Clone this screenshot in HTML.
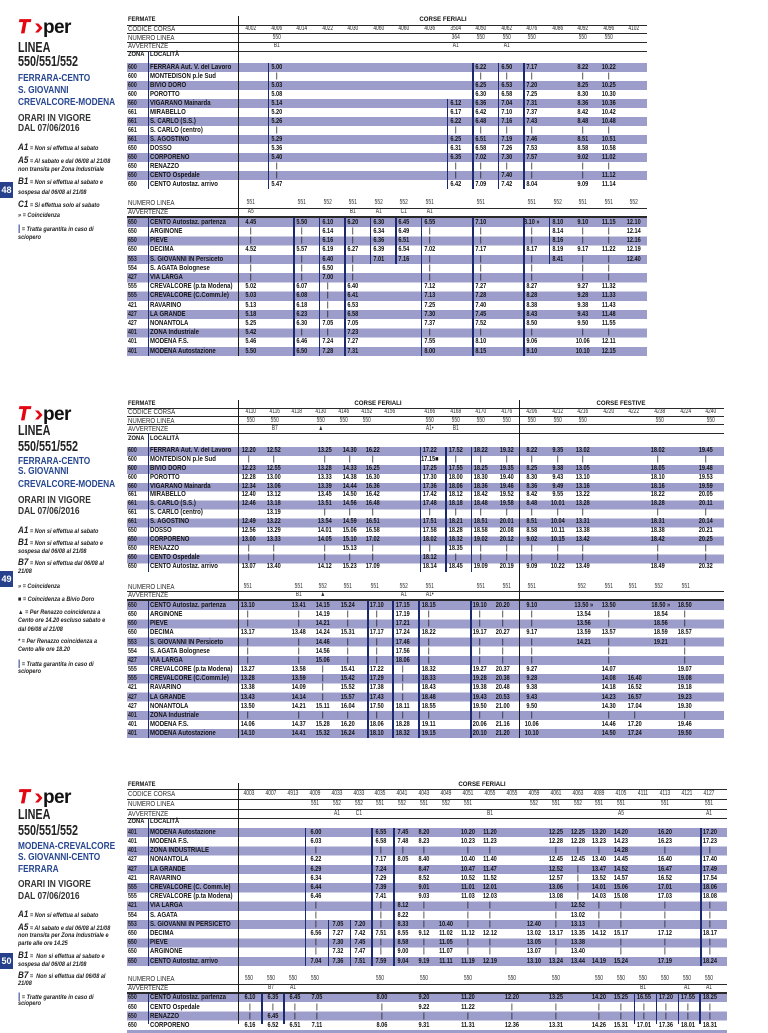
<!DOCTYPE html>
<html><head><meta charset="utf-8">
<style>
*{margin:0;padding:0;box-sizing:border-box}
body{width:768px;height:1024px;overflow:hidden;position:relative;background:#fff;font-family:"Liberation Sans",Arial,sans-serif;color:#1a1a1a}
.a{position:absolute;white-space:nowrap}
.bd{position:absolute;left:127px}
.hl{position:absolute;left:127px;height:1px;background:#2a2a2a}
.sep{position:absolute;width:1.3px;background:#1a1a1a}
.zs{position:absolute;left:147.5px;width:1px;background:#1c2b6e}
.v{position:absolute;width:1.5px;background:#1c2b6e}
.t{position:absolute;text-align:center;font-weight:bold;font-size:7px;transform:scaleX(.8);white-space:nowrap;color:#141414}
.h{position:absolute;text-align:center;font-size:7px;transform:scaleX(.7);white-space:nowrap;color:#2e2e2e}
.w1{width:25.56px}.w3{width:21.9px}
.A1{top:63.3px;line-height:9px}
.B1{top:217.7px;line-height:9.2px}
.A2{top:446.7px;line-height:8.95px}
.B2{top:601px;line-height:9.15px}
.A3{top:827.7px;line-height:9.2px}
.B3{top:993.3px;line-height:9.2px}
.HA1{top:25px;line-height:8.6px}
.HB1{top:199.1px;line-height:8.6px}
.HA2{top:408.3px;line-height:8.33px}
.HB2{top:582.7px;line-height:8.3px}
.HA3{top:789px;line-height:9.77px}
.HB3{top:975.3px;line-height:8.7px}
.z{position:absolute;left:128px;font-weight:bold;font-size:7px;transform:scaleX(.75);transform-origin:0 0;white-space:nowrap;color:#1a1a1a}
.n{position:absolute;left:150px;font-weight:bold;font-size:7px;transform:scaleX(.86);transform-origin:0 0;white-space:nowrap;color:#141414}
.lab{position:absolute;left:128px;font-size:7.2px;transform:scaleX(.85);transform-origin:0 0;white-space:nowrap;color:#2e2e2e}
.lb{font-weight:bold;color:#111;font-size:6.8px}
.ttl{position:absolute;width:120px;text-align:center;font-weight:bold;font-size:6.8px;line-height:8.6px;color:#111;transform:scaleX(.9)}
.L{position:absolute;left:18px;font-weight:bold;white-space:nowrap;transform-origin:0 0;line-height:1}
.big{font-size:15px;transform:scaleX(.72);color:#222}
.blu{font-size:10px;transform:scaleX(.83);color:#26468f}
.ora{font-size:10px;transform:scaleX(.84);color:#333}
.fn{position:absolute;left:18px;font-style:italic;font-weight:bold;font-size:6.5px;line-height:10px;transform:scaleX(.85);transform-origin:0 0;white-space:nowrap;color:#222}
.fn b{font-size:9.5px}
.bar{color:#26408c;font-size:9.5px;font-style:normal}
.pg{position:absolute;left:0;width:13px;height:16px;background:#26408c;color:#fff;font-weight:bold;font-size:9px;line-height:16px;text-align:center}
.logo{position:absolute;left:16px}
</style></head><body>

<!-- ================= SECTION 1 ================= -->
<svg class="logo" style="top:18.3px" width="60" height="20">
<text x="2" y="15" font-family="Liberation Sans" font-size="19" font-weight="bold" font-style="italic" fill="#e30613" stroke="#e30613" stroke-width="0.8">T</text>
<polygon points="19,5.5 22.5,5.5 26.5,10 22.5,14.5 19,14.5 23,10" fill="#e30613"/>
<text x="27" y="15" font-family="Liberation Sans" font-size="19" font-weight="bold" fill="#111" letter-spacing="-0.6">per</text>
</svg>
<div class="L big" style="top:40.3px">LINEA</div>
<div class="L big" style="top:54.3px">550/551/552</div>
<div class="L blu" style="top:73.8px">FERRARA-CENTO</div>
<div class="L blu" style="top:85.5px">S. GIOVANNI</div>
<div class="L blu" style="top:98.2px">CREVALCORE-MODENA</div>
<div class="L ora" style="top:113.8px">ORARI IN VIGORE</div>
<div class="L ora" style="top:124.2px">DAL 07/06/2016</div>
<div class="fn" style="top:142.7px"><b>A1</b> = Non si effettua al sabato</div>
<div class="fn" style="top:156.3px"><b>A5</b> = Al sabato e dal 06/08 al 21/08</div>
<div class="fn" style="top:164.5px">non transita per Zona Industriale</div>
<div class="fn" style="top:177px"><b>B1</b> = Non si effettua al sabato e</div>
<div class="fn" style="top:187.8px">sospesa dal 06/08 al 21/08</div>
<div class="fn" style="top:200.3px"><b>C1</b> = Si effettua solo al sabato</div>
<div class="fn" style="top:211px">» = Coincidenza</div>
<div class="fn" style="top:223.7px"><span class="bar">|</span> = Tratta garantita in caso di</div>
<div class="fn" style="top:232.8px">sciopero</div>
<div class="pg" style="top:182px">48</div>

<div class="bd" style="top:63.3px;width:520px;height:126px;background:repeating-linear-gradient(#9d9dcb 0 9px,#fff 9px 18px)"></div>
<div class="bd" style="top:217.7px;width:520px;height:138px;background:repeating-linear-gradient(#9d9dcb 0 9.2px,#fff 9.2px 18.4px)"></div>
<div class="hl" style="top:25px;width:520px"></div>
<div class="hl" style="top:33.3px;width:520px"></div>
<div class="hl" style="top:42.3px;width:520px"></div>
<div class="hl" style="top:50.5px;width:520px;height:1.6px"></div>
<div class="hl" style="top:207.7px;width:520px"></div>
<div class="hl" style="top:216.1px;width:520px;height:1.6px"></div>
<div class="sep" style="left:237.5px;top:16px;height:340px"></div>
<div class="zs" style="top:51px;height:138.3px"></div>
<div class="zs" style="top:217.7px;height:138px"></div>

<div class="lab lb" style="top:16.4px;line-height:8.6px">FERMATE</div>
<div class="ttl" style="left:383px;top:16.4px">CORSE FERIALI</div>
<div class="lab HA1">CODICE CORSA<br>NUMERO LINEA<br>AVVERTENZE</div>
<div class="lab lb" style="top:51px;line-height:8.6px">ZONA</div>
<div class="lab lb" style="top:51px;line-height:8.6px;left:150px">LOCALITÀ</div>
<div class="lab HB1">NUMERO LINEA<br>AVVERTENZE</div>

<div class="z A1">600<br>600<br>600<br>600<br>660<br>661<br>661<br>661<br>661<br>650<br>650<br>650<br>650<br>650</div>
<div class="n A1">FERRARA Aut. V. del Lavoro<br>MONTEDISON p.le Sud<br>BIVIO DORO<br>POROTTO<br>VIGARANO Mainarda<br>MIRABELLO<br>S. CARLO (S.S.)<br>S. CARLO (centro)<br>S. AGOSTINO<br>DOSSO<br>CORPORENO<br>RENAZZO<br>CENTO Ospedale<br>CENTO Autostaz. arrivo</div>
<div class="z B1">650<br>650<br>650<br>650<br>553<br>554<br>427<br>555<br>555<br>421<br>427<br>427<br>401<br>401<br>401</div>
<div class="n B1">CENTO Autostaz. partenza<br>ARGINONE<br>PIEVE<br>DECIMA<br>S. GIOVANNI IN Persiceto<br>S. AGATA Bolognese<br>VIA LARGA<br>CREVALCORE (p.ta Modena)<br>CREVALCORE (C.Comm.le)<br>RAVARINO<br>LA GRANDE<br>NONANTOLA<br>ZONA Industriale<br>MODENA F.S.<br>MODENA Autostazione</div>

<!-- S1 headers A -->
<div class="h w1 HA1" style="left:238px">4002</div>
<div class="h w1 HA1" style="left:263.6px">4006<br>550<br>B1</div>
<div class="h w1 HA1" style="left:289.1px">4014</div>
<div class="h w1 HA1" style="left:314.7px">4022</div>
<div class="h w1 HA1" style="left:340.2px">4030</div>
<div class="h w1 HA1" style="left:365.8px">4060</div>
<div class="h w1 HA1" style="left:391.4px">4060</div>
<div class="h w1 HA1" style="left:416.9px">4036</div>
<div class="h w1 HA1" style="left:442.5px">3504<br>364<br>A1</div>
<div class="h w1 HA1" style="left:468px">4050<br>550</div>
<div class="h w1 HA1" style="left:493.6px">4062<br>550<br>A1</div>
<div class="h w1 HA1" style="left:519.2px">4076<br>550</div>
<div class="h w1 HA1" style="left:544.7px">4086</div>
<div class="h w1 HA1" style="left:570.3px">4092<br>550</div>
<div class="h w1 HA1" style="left:595.8px">4096<br>550</div>
<div class="h w1 HA1" style="left:621.4px">4102</div>
<!-- S1 data A -->
<div class="t w1 A1" style="left:263.6px">5.00<br>|<br>5.03<br>5.08<br>5.14<br>5.20<br>5.26<br>|<br>5.29<br>5.36<br>5.40<br>|<br>|<br>5.47</div>
<div class="t w1 A1" style="left:442.5px"><br><br><br><br>6.12<br>6.17<br>6.22<br>|<br>6.25<br>6.31<br>6.35<br>|<br>|<br>6.42</div>
<div class="t w1 A1" style="left:468px">6.22<br>|<br>6.25<br>6.30<br>6.36<br>6.42<br>6.48<br>|<br>6.51<br>6.58<br>7.02<br>|<br>|<br>7.09</div>
<div class="t w1 A1" style="left:493.6px">6.50<br>|<br>6.53<br>6.58<br>7.04<br>7.10<br>7.16<br>|<br>7.19<br>7.26<br>7.30<br>|<br>7.40<br>7.42</div>
<div class="t w1 A1" style="left:519.2px">7.17<br>|<br>7.20<br>7.25<br>7.31<br>7.37<br>7.43<br>|<br>7.46<br>7.53<br>7.57<br>|<br>|<br>8.04</div>
<div class="t w1 A1" style="left:570.3px">8.22<br>|<br>8.25<br>8.30<br>8.36<br>8.42<br>8.48<br>|<br>8.51<br>8.58<br>9.02<br>|<br>|<br>9.09</div>
<div class="t w1 A1" style="left:595.8px">10.22<br>|<br>10.25<br>10.30<br>10.36<br>10.42<br>10.48<br>|<br>10.51<br>10.58<br>11.02<br>|<br>11.12<br>11.14</div>
<i class="v" style="left:267.6px;top:63.3px;height:126px"></i>
<i class="v" style="left:446.5px;top:99.3px;height:90px"></i>
<i class="v" style="left:472px;top:63.3px;height:126px"></i>
<i class="v" style="left:497.6px;top:63.3px;height:126px"></i>
<i class="v" style="left:523.2px;top:63.3px;height:126px"></i>

<!-- S1 headers B -->
<div class="h w1 HB1" style="left:238px">551<br>A5</div>
<div class="h w1 HB1" style="left:289.1px">551</div>
<div class="h w1 HB1" style="left:314.7px">552</div>
<div class="h w1 HB1" style="left:340.2px">551<br>B1</div>
<div class="h w1 HB1" style="left:365.8px">552<br>A1</div>
<div class="h w1 HB1" style="left:391.4px">552<br>C1</div>
<div class="h w1 HB1" style="left:416.9px">551<br>A1</div>
<div class="h w1 HB1" style="left:468px">551</div>
<div class="h w1 HB1" style="left:519.2px">551</div>
<div class="h w1 HB1" style="left:544.7px">552</div>
<div class="h w1 HB1" style="left:570.3px">551</div>
<div class="h w1 HB1" style="left:595.8px">551</div>
<div class="h w1 HB1" style="left:621.4px">552</div>
<!-- S1 data B -->
<div class="t w1 B1" style="left:238px">4.45<br>|<br>|<br>4.52<br>|<br>|<br>|<br>5.02<br>5.03<br>5.13<br>5.18<br>5.25<br>5.42<br>5.46<br>5.50</div>
<div class="t w1 B1" style="left:289.1px">5.50<br>|<br>|<br>5.57<br>|<br>|<br>|<br>6.07<br>6.08<br>6.18<br>6.23<br>6.30<br>|<br>6.46<br>6.50</div>
<div class="t w1 B1" style="left:314.7px">6.10<br>6.14<br>6.16<br>6.19<br>6.40<br>6.50<br>7.00<br>|<br>|<br>|<br>|<br>7.05<br>|<br>7.24<br>7.28</div>
<div class="t w1 B1" style="left:340.2px">6.20<br>|<br>|<br>6.27<br>|<br>|<br>|<br>6.40<br>6.41<br>6.53<br>6.58<br>7.05<br>7.23<br>7.27<br>7.31</div>
<div class="t w1 B1" style="left:365.8px">6.30<br>6.34<br>6.36<br>6.39<br>7.01</div>
<div class="t w1 B1" style="left:391.4px">6.45<br>6.49<br>6.51<br>6.54<br>7.16</div>
<div class="t w1 B1" style="left:416.9px">6.55<br>|<br>|<br>7.02<br>|<br>|<br>|<br>7.12<br>7.13<br>7.25<br>7.30<br>7.37<br>|<br>7.55<br>8.00</div>
<div class="t w1 B1" style="left:468px">7.10<br>|<br>|<br>7.17<br>|<br>|<br>|<br>7.27<br>7.28<br>7.40<br>7.45<br>7.52<br>|<br>8.10<br>8.15</div>
<div class="t w1 B1" style="left:519.2px">8.10 »<br>|<br>|<br>8.17<br>|<br>|<br>|<br>8.27<br>8.28<br>8.38<br>8.43<br>8.50<br>|<br>9.06<br>9.10</div>
<div class="t w1 B1" style="left:544.7px">8.10<br>8.14<br>8.16<br>8.19<br>8.41</div>
<div class="t w1 B1" style="left:570.3px">9.10<br>|<br>|<br>9.17<br>|<br>|<br>|<br>9.27<br>9.28<br>9.38<br>9.43<br>9.50<br>|<br>10.06<br>10.10</div>
<div class="t w1 B1" style="left:595.8px">11.15<br>|<br>|<br>11.22<br>|<br>|<br>|<br>11.32<br>11.33<br>11.43<br>11.48<br>11.55<br>|<br>12.11<br>12.15</div>
<div class="t w1 B1" style="left:621.4px">12.10<br>12.14<br>12.16<br>12.19<br>12.40</div>
<i class="v" style="left:293.1px;top:217.7px;height:138px"></i>
<i class="v" style="left:318.7px;top:217.7px;height:138px"></i>
<i class="v" style="left:344.2px;top:217.7px;height:138px"></i>
<i class="v" style="left:369.8px;top:217.7px;height:46px"></i>
<i class="v" style="left:395.4px;top:217.7px;height:46px"></i>
<i class="v" style="left:420.9px;top:217.7px;height:138px"></i>
<i class="v" style="left:472px;top:217.7px;height:138px"></i>
<i class="v" style="left:523.2px;top:217.7px;height:138px"></i>
<i class="v" style="left:548.7px;top:217.7px;height:46px"></i>

<!-- ================= SECTION 2 ================= -->
<svg class="logo" style="top:405px" width="60" height="20">
<text x="2" y="15" font-family="Liberation Sans" font-size="19" font-weight="bold" font-style="italic" fill="#e30613" stroke="#e30613" stroke-width="0.8">T</text>
<polygon points="19,5.5 22.5,5.5 26.5,10 22.5,14.5 19,14.5 23,10" fill="#e30613"/>
<text x="27" y="15" font-family="Liberation Sans" font-size="19" font-weight="bold" fill="#111" letter-spacing="-0.6">per</text>
</svg>
<div class="L big" style="top:423px">LINEA</div>
<div class="L big" style="top:439px">550/551/552</div>
<div class="L blu" style="top:456.5px">FERRARA-CENTO</div>
<div class="L blu" style="top:467.2px">S. GIOVANNI</div>
<div class="L blu" style="top:479.8px">CREVALCORE-MODENA</div>
<div class="L ora" style="top:495.5px">ORARI IN VIGORE</div>
<div class="L ora" style="top:507.2px">DAL 07/06/2016</div>
<div class="fn" style="top:526px"><b>A1</b> = Non si effettua al sabato</div>
<div class="fn" style="top:537.7px"><b>B1</b> = Non si effettua al sabato e</div>
<div class="fn" style="top:546.8px">sospesa dal 06/08 al 21/08</div>
<div class="fn" style="top:558px"><b>B7</b> = Non si effettua dal 06/08 al</div>
<div class="fn" style="top:566.8px">21/08</div>
<div class="fn" style="top:581.8px">» = Coincidenza</div>
<div class="fn" style="top:595px">■ = Coincidenza a Bivio Doro</div>
<div class="fn" style="top:607.8px">▲ = Per Renazzo coincidenza a</div>
<div class="fn" style="top:616px">Cento ore 14.20 escluso sabato e</div>
<div class="fn" style="top:624.5px">dal 06/08 al 21/08</div>
<div class="fn" style="top:637px">* = Per Renazzo coincidenza a</div>
<div class="fn" style="top:645px">Cento alle ore 18.20</div>
<div class="fn" style="top:658.7px"><span class="bar">|</span> = Tratta garantita in caso di</div>
<div class="fn" style="top:667px">sciopero</div>
<div class="pg" style="top:571px">49</div>

<div class="bd" style="top:446.7px;width:597px;height:125.3px;background:repeating-linear-gradient(#9d9dcb 0 8.95px,#fff 8.95px 17.9px)"></div>
<div class="bd" style="top:601px;width:597px;height:137.3px;background:repeating-linear-gradient(#9d9dcb 0 9.15px,#fff 9.15px 18.3px)"></div>
<div class="hl" style="top:408.3px;width:597px"></div>
<div class="hl" style="top:416px;width:597px"></div>
<div class="hl" style="top:424.3px;width:597px"></div>
<div class="hl" style="top:432.8px;width:597px;height:1.6px"></div>
<div class="hl" style="top:591px;width:597px"></div>
<div class="hl" style="top:599.2px;width:597px;height:1.6px"></div>
<div class="sep" style="left:237.5px;top:400px;height:338.3px"></div>
<div class="sep" style="left:518.8px;top:400px;height:338.3px;width:1.6px"></div>
<div class="zs" style="top:433px;height:139px"></div>
<div class="zs" style="top:601px;height:137.3px"></div>

<div class="lab lb" style="top:399.6px;line-height:8.6px">FERMATE</div>
<div class="ttl" style="left:318px;top:399.6px">CORSE FERIALI</div>
<div class="ttl" style="left:561px;top:399.6px">CORSE FESTIVE</div>
<div class="lab HA2">CODICE CORSA<br>NUMERO LINEA<br>AVVERTENZE</div>
<div class="lab lb" style="top:434.6px;line-height:8.6px">ZONA</div>
<div class="lab lb" style="top:434.6px;line-height:8.6px;left:150px">LOCALITÀ</div>
<div class="lab HB2">NUMERO LINEA<br>AVVERTENZE</div>

<div class="z A2">600<br>600<br>600<br>600<br>660<br>661<br>661<br>661<br>661<br>650<br>650<br>650<br>650<br>650</div>
<div class="n A2">FERRARA Aut. V. del Lavoro<br>MONTEDISON p.le Sud<br>BIVIO DORO<br>POROTTO<br>VIGARANO Mainarda<br>MIRABELLO<br>S. CARLO (S.S.)<br>S. CARLO (centro)<br>S. AGOSTINO<br>DOSSO<br>CORPORENO<br>RENAZZO<br>CENTO Ospedale<br>CENTO Autostaz. arrivo</div>
<div class="z B2">650<br>650<br>650<br>650<br>553<br>554<br>427<br>555<br>555<br>421<br>427<br>427<br>401<br>401<br>401</div>
<div class="n B2">CENTO Autostaz. partenza<br>ARGINONE<br>PIEVE<br>DECIMA<br>S. GIOVANNI IN Persiceto<br>S. AGATA Bolognese<br>VIA LARGA<br>CREVALCORE (p.ta Modena)<br>CREVALCORE (C.Comm.le)<br>RAVARINO<br>LA GRANDE<br>NONANTOLA<br>ZONA Industriale<br>MODENA F.S.<br>MODENA Autostazione</div>

<!-- S2 headers A -->
<div class="h w1 HA2" style="left:238px">4110<br>550</div>
<div class="h w1 HA2" style="left:261.5px">4116<br>550<br>B7</div>
<div class="h w1 HA2" style="left:284px">4118</div>
<div class="h w1 HA2" style="left:308px">4130<br>550<br>▲</div>
<div class="h w1 HA2" style="left:331px">4146<br>550</div>
<div class="h w1 HA2" style="left:354px">4152<br>550</div>
<div class="h w1 HA2" style="left:377px">4156</div>
<div class="h w1 HA2" style="left:416.9px">4166<br>550<br>A1•</div>
<div class="h w1 HA2" style="left:442.5px">4168<br>550<br>B1</div>
<div class="h w1 HA2" style="left:468px">4170<br>550</div>
<div class="h w1 HA2" style="left:493.6px">4176<br>550</div>
<div class="h w1 HA2" style="left:519.2px">4206<br>550</div>
<div class="h w1 HA2" style="left:544.7px">4212<br>550</div>
<div class="h w1 HA2" style="left:570.3px">4216<br>550</div>
<div class="h w1 HA2" style="left:595.8px">4220</div>
<div class="h w1 HA2" style="left:621.4px">4222</div>
<div class="h w1 HA2" style="left:647px">4238<br>550</div>
<div class="h w1 HA2" style="left:672.5px">4224</div>
<div class="h w1 HA2" style="left:698.1px">4240<br>550</div>
<!-- S2 data A -->
<div class="t w1 A2" style="left:236px">12.20<br>|<br>12.23<br>12.28<br>12.34<br>12.40<br>12.46<br><br>12.49<br>12.56<br>13.00<br>|<br>|<br>13.07</div>
<div class="t w1 A2" style="left:261px">12.52<br>|<br>12.55<br>13.00<br>13.06<br>13.12<br>13.18<br>13.19<br>13.22<br>13.29<br>13.33<br>|<br>|<br>13.40</div>
<div class="t w1 A2" style="left:312px">13.25<br>|<br>13.28<br>13.33<br>13.39<br>13.45<br>13.51<br>|<br>13.54<br>14.01<br>14.05<br>|<br>|<br>14.12</div>
<div class="t w1 A2" style="left:336.5px">14.30<br>|<br>14.33<br>14.38<br>14.44<br>14.50<br>14.56<br>|<br>14.59<br>15.06<br>15.10<br>15.13<br>|<br>15.23</div>
<div class="t w1 A2" style="left:360px">16.22<br>|<br>16.25<br>16.30<br>16.36<br>16.42<br>16.48<br>|<br>16.51<br>16.58<br>17.02<br>|<br>|<br>17.09</div>
<div class="t w1 A2" style="left:416.9px">17.22<br>17.15■<br>17.25<br>17.30<br>17.36<br>17.42<br>17.48<br>|<br>17.51<br>17.58<br>18.02<br>|<br>18.12<br>18.14</div>
<div class="t w1 A2" style="left:442.5px">17.52<br>|<br>17.55<br>18.00<br>18.06<br>18.12<br>18.18<br>|<br>18.21<br>18.28<br>18.32<br>18.35<br>|<br>18.45</div>
<div class="t w1 A2" style="left:468px">18.22<br>|<br>18.25<br>18.30<br>18.36<br>18.42<br>18.48<br>|<br>18.51<br>18.58<br>19.02<br>|<br>|<br>19.09</div>
<div class="t w1 A2" style="left:493.6px">19.32<br>|<br>19.35<br>19.40<br>19.46<br>19.52<br>19.58<br>|<br>20.01<br>20.08<br>20.12<br>|<br>|<br>20.19</div>
<div class="t w1 A2" style="left:519.2px">8.22<br>|<br>8.25<br>8.30<br>8.36<br>8.42<br>8.48<br>|<br>8.51<br>8.58<br>9.02<br>|<br>|<br>9.09</div>
<div class="t w1 A2" style="left:544.7px">9.35<br>|<br>9.38<br>9.43<br>9.49<br>9.55<br>10.01<br>|<br>10.04<br>10.11<br>10.15<br>|<br>|<br>10.22</div>
<div class="t w1 A2" style="left:570.3px">13.02<br>|<br>13.05<br>13.10<br>13.16<br>13.22<br>13.28<br>|<br>13.31<br>13.38<br>13.42<br>|<br>|<br>13.49</div>
<div class="t w1 A2" style="left:645px">18.02<br>|<br>18.05<br>18.10<br>18.16<br>18.22<br>18.28<br>|<br>18.31<br>18.38<br>18.42<br>|<br>|<br>18.49</div>
<div class="t w1 A2" style="left:693px">19.45<br>|<br>19.48<br>19.53<br>19.59<br>20.05<br>20.11<br>|<br>20.14<br>20.21<br>20.25<br>|<br>|<br>20.32</div>
<i class="v" style="left:419.5px;top:446.7px;height:125.3px"></i>
<i class="v" style="left:445px;top:446.7px;height:125.3px;width:2px"></i>
<i class="v" style="left:470.5px;top:446.7px;height:125.3px"></i>

<!-- S2 headers B -->
<div class="h w1 HB2" style="left:234.5px">551</div>
<div class="h w1 HB2" style="left:285.5px">551<br>B1</div>
<div class="h w1 HB2" style="left:309.5px">552<br>▲</div>
<div class="h w1 HB2" style="left:335px">551</div>
<div class="h w1 HB2" style="left:362px">551</div>
<div class="h w1 HB2" style="left:391px">552<br>A1</div>
<div class="h w1 HB2" style="left:416.5px">551<br>A1•</div>
<div class="h w1 HB2" style="left:468px">551</div>
<div class="h w1 HB2" style="left:493.6px">551</div>
<div class="h w1 HB2" style="left:518.5px">551</div>
<div class="h w1 HB2" style="left:569px">552</div>
<div class="h w1 HB2" style="left:596px">551</div>
<div class="h w1 HB2" style="left:620px">551</div>
<div class="h w1 HB2" style="left:646px">552</div>
<div class="h w1 HB2" style="left:673px">551</div>
<!-- S2 data B -->
<div class="t w1 B2" style="left:234.5px">13.10<br>|<br>|<br>13.17<br>|<br>|<br>|<br>13.27<br>13.28<br>13.38<br>13.43<br>13.50<br>|<br>14.06<br>14.10</div>
<div class="t w1 B2" style="left:285.5px">13.41<br>|<br>|<br>13.48<br>|<br>|<br>|<br>13.58<br>13.59<br>14.09<br>14.14<br>14.21<br>|<br>14.37<br>14.41</div>
<div class="t w1 B2" style="left:309.5px">14.15<br>14.19<br>14.21<br>14.24<br>14.46<br>14.56<br>15.06<br>|<br>|<br>|<br>|<br>15.11<br>|<br>15.28<br>15.32</div>
<div class="t w1 B2" style="left:334.5px">15.24<br>|<br>|<br>15.31<br>|<br>|<br>|<br>15.41<br>15.42<br>15.52<br>15.57<br>16.04<br>|<br>16.20<br>16.24</div>
<div class="t w1 B2" style="left:364px">17.10<br>|<br>|<br>17.17<br>|<br>|<br>|<br>17.22<br>17.29<br>17.38<br>17.43<br>17.50<br>|<br>18.06<br>18.10</div>
<div class="t w1 B2" style="left:389.5px">17.15<br>17.19<br>17.21<br>17.24<br>17.46<br>17.56<br>18.06<br>|<br>|<br>|<br>|<br>18.11<br>|<br>18.28<br>18.32</div>
<div class="t w1 B2" style="left:416px">18.15<br>|<br>|<br>18.22<br>|<br>|<br>|<br>18.32<br>18.33<br>18.43<br>18.48<br>18.55<br>|<br>19.11<br>19.15</div>
<div class="t w1 B2" style="left:466.5px">19.10<br>|<br>|<br>19.17<br>|<br>|<br>|<br>19.27<br>19.28<br>19.38<br>19.43<br>19.50<br>|<br>20.06<br>20.10</div>
<div class="t w1 B2" style="left:490px">20.20<br>|<br>|<br>20.27<br>|<br>|<br>|<br>20.37<br>20.38<br>20.48<br>20.53<br>21.00<br>|<br>21.16<br>21.20</div>
<div class="t w1 B2" style="left:518.5px">9.10<br>|<br>|<br>9.17<br>|<br>|<br>|<br>9.27<br>9.28<br>9.38<br>9.43<br>9.50<br>|<br>10.06<br>10.10</div>
<div class="t w1 B2" style="left:571px">13.50 »<br>13.54<br>13.56<br>13.59<br>14.21</div>
<div class="t w1 B2" style="left:595.5px">13.50<br>|<br>|<br>13.57<br>|<br>|<br>|<br>14.07<br>14.08<br>14.18<br>14.23<br>14.30<br>|<br>14.46<br>14.50</div>
<div class="t w1 B2" style="left:622px"><br><br><br><br><br><br><br><br>16.40<br>16.52<br>16.57<br>17.04<br>|<br>17.20<br>17.24</div>
<div class="t w1 B2" style="left:648px">18.50 »<br>18.54<br>18.56<br>18.59<br>19.21</div>
<div class="t w1 B2" style="left:672px">18.50<br>|<br>|<br>18.57<br>|<br>|<br>|<br>19.07<br>19.08<br>19.18<br>19.23<br>19.30<br>|<br>19.46<br>19.50</div>
<i class="v" style="left:366.5px;top:601px;height:137.3px;width:2px"></i>
<i class="v" style="left:392px;top:601px;height:137.3px"></i>
<i class="v" style="left:418px;top:601px;height:137.3px"></i>
<i class="v" style="left:470px;top:601px;height:137.3px"></i>

<!-- ================= SECTION 3 ================= -->
<svg class="logo" style="top:788.3px" width="60" height="20">
<text x="2" y="15" font-family="Liberation Sans" font-size="19" font-weight="bold" font-style="italic" fill="#e30613" stroke="#e30613" stroke-width="0.8">T</text>
<polygon points="19,5.5 22.5,5.5 26.5,10 22.5,14.5 19,14.5 23,10" fill="#e30613"/>
<text x="27" y="15" font-family="Liberation Sans" font-size="19" font-weight="bold" fill="#111" letter-spacing="-0.6">per</text>
</svg>
<div class="L big" style="top:807.3px">LINEA</div>
<div class="L big" style="top:823.3px">550/551/552</div>
<div class="L blu" style="top:841.5px">MODENA-CREVALCORE</div>
<div class="L blu" style="top:853.2px">S. GIOVANNI-CENTO</div>
<div class="L blu" style="top:864.8px">FERRARA</div>
<div class="L ora" style="top:879.8px">ORARI IN VIGORE</div>
<div class="L ora" style="top:891.5px">DAL 07/06/2016</div>
<div class="fn" style="top:910.3px"><b>A1</b> = Non si effettua al sabato</div>
<div class="fn" style="top:922.7px"><b>A5</b> = Al sabato e dal 06/08 al 21/08</div>
<div class="fn" style="top:931px">non transita per Zona Industriale e</div>
<div class="fn" style="top:939.4px">parte alle ore 14.25</div>
<div class="fn" style="top:951.3px"><b>B1</b> = &nbsp;Non si effettua al sabato e</div>
<div class="fn" style="top:960px">sospesa dal 06/08 al 21/08</div>
<div class="fn" style="top:971.3px"><b>B7</b> = &nbsp;Non si effettua dal 06/08 al</div>
<div class="fn" style="top:979.4px">21/08</div>
<div class="fn" style="top:992px"><span class="bar">|</span> = Tratte garantite in caso di</div>
<div class="fn" style="top:999.4px">sciopero</div>
<div class="pg" style="top:953px">50</div>

<div class="bd" style="top:827.7px;width:600px;height:138px;background:repeating-linear-gradient(#9d9dcb 0 9.2px,#fff 9.2px 18.4px)"></div>
<div class="bd" style="top:993.3px;width:600px;height:40px;background:repeating-linear-gradient(#9d9dcb 0 9.2px,#fff 9.2px 18.4px)"></div>
<div class="hl" style="top:789px;width:600px"></div>
<div class="hl" style="top:799.3px;width:600px"></div>
<div class="hl" style="top:809px;width:600px"></div>
<div class="hl" style="top:817.8px;width:600px;height:1.6px"></div>
<div class="hl" style="top:984px;width:600px"></div>
<div class="hl" style="top:992px;width:600px;height:1.6px"></div>
<div class="sep" style="left:237.5px;top:783px;height:241px"></div>
<div class="zs" style="top:818px;height:147.7px"></div>
<div class="zs" style="top:993.3px;height:31px"></div>

<div class="lab lb" style="top:780.6px;line-height:8.6px">FERMATE</div>
<div class="ttl" style="left:422px;top:780.6px">CORSE FERIALI</div>
<div class="lab HA3">CODICE CORSA<br>NUMERO LINEA<br>AVVERTENZE</div>
<div class="lab lb" style="top:818.3px;line-height:8.6px">ZONA</div>
<div class="lab lb" style="top:818.3px;line-height:8.6px;left:150px">LOCALITÀ</div>
<div class="lab HB3">NUMERO LINEA<br>AVVERTENZE</div>

<div class="z A3">401<br>401<br>401<br>427<br>427<br>421<br>555<br>555<br>421<br>554<br>553<br>650<br>650<br>650<br>650</div>
<div class="n A3">MODENA Autostazione<br>MODENA F.S.<br>ZONA INDUSTRIALE<br>NONANTOLA<br>LA GRANDE<br>RAVARINO<br>CREVALCORE (C. Comm.le)<br>CREVALCORE (p.ta Modena)<br>VIA LARGA<br>S. AGATA<br>S. GIOVANNI IN PERSICETO<br>DECIMA<br>PIEVE<br>ARGINONE<br>CENTO Autostaz. arrivo</div>
<div class="z B3">650<br>650<br>650<br>650</div>
<div class="n B3">CENTO Autostaz. partenza<br>CENTO Ospedale<br>RENAZZO<br>CORPORENO</div>

<!-- S3 headers A -->
<div class="h w3 HA3" style="left:238px">4003</div>
<div class="h w3 HA3" style="left:259.9px">4007</div>
<div class="h w3 HA3" style="left:281.8px">4913</div>
<div class="h w3 HA3" style="left:303.7px">4009<br>551</div>
<div class="h w3 HA3" style="left:325.6px">4033<br>552<br>A1</div>
<div class="h w3 HA3" style="left:347.5px">4033<br>552<br>C1</div>
<div class="h w3 HA3" style="left:369.4px">4035<br>551</div>
<div class="h w3 HA3" style="left:391.3px">4041<br>552</div>
<div class="h w3 HA3" style="left:413.2px">4043<br>551</div>
<div class="h w3 HA3" style="left:435.1px">4049<br>552</div>
<div class="h w3 HA3" style="left:457px">4051<br>551</div>
<div class="h w3 HA3" style="left:478.9px">4055<br><br>B1</div>
<div class="h w3 HA3" style="left:500.8px">4055</div>
<div class="h w3 HA3" style="left:522.7px">4059<br>552</div>
<div class="h w3 HA3" style="left:544.6px">4061<br>551</div>
<div class="h w3 HA3" style="left:566.5px">4063<br>552</div>
<div class="h w3 HA3" style="left:588.4px">4089<br>551</div>
<div class="h w3 HA3" style="left:610.3px">4105<br>551<br>A5</div>
<div class="h w3 HA3" style="left:632.2px">4111</div>
<div class="h w3 HA3" style="left:654.1px">4113<br>551</div>
<div class="h w3 HA3" style="left:676px">4121</div>
<div class="h w3 HA3" style="left:697.9px">4127<br>551<br>A1</div>
<!-- S3 data A -->
<div class="t w3 A3" style="left:304.7px">6.00<br>6.03<br>|<br>6.22<br>6.29<br>6.34<br>6.44<br>6.46<br>|<br>|<br>|<br>6.56<br>|<br>|<br>7.04</div>
<div class="t w3 A3" style="left:326.6px"><br><br><br><br><br><br><br><br><br><br>7.05<br>7.27<br>7.30<br>7.32<br>7.36</div>
<div class="t w3 A3" style="left:348.5px"><br><br><br><br><br><br><br><br><br><br>7.20<br>7.42<br>7.45<br>7.47<br>7.51</div>
<div class="t w3 A3" style="left:370.4px">6.55<br>6.58<br>|<br>7.17<br>7.24<br>7.29<br>7.39<br>7.41<br>|<br>|<br>|<br>7.51<br>|<br>|<br>7.59</div>
<div class="t w3 A3" style="left:392.3px">7.45<br>7.48<br>|<br>8.05<br><br><br><br><br>8.12<br>8.22<br>8.33<br>8.55<br>8.58<br>9.00<br>9.04</div>
<div class="t w3 A3" style="left:413.2px">8.20<br>8.23<br>|<br>8.40<br>8.47<br>8.52<br>9.01<br>9.03<br>|<br>|<br>|<br>9.12<br>|<br>|<br>9.19</div>
<div class="t w3 A3" style="left:435.1px"><br><br><br><br><br><br><br><br><br><br>10.40<br>11.02<br>11.05<br>11.07<br>11.11</div>
<div class="t w3 A3" style="left:457px">10.20<br>10.23<br>|<br>10.40<br>10.47<br>10.52<br>11.01<br>11.03<br>|<br>|<br>|<br>11.12<br>|<br>|<br>11.19</div>
<div class="t w3 A3" style="left:478.9px">11.20<br>11.23<br>|<br>11.40<br>11.47<br>11.52<br>12.01<br>12.03<br>|<br>|<br>|<br>12.12<br>|<br>|<br>12.19</div>
<div class="t w3 A3" style="left:522.7px"><br><br><br><br><br><br><br><br><br><br>12.40<br>13.02<br>13.05<br>13.07<br>13.10</div>
<div class="t w3 A3" style="left:544.6px">12.25<br>12.28<br>|<br>12.45<br>12.52<br>12.57<br>13.06<br>13.08<br>|<br>|<br>|<br>13.17<br>|<br>|<br>13.24</div>
<div class="t w3 A3" style="left:566.5px">12.25<br>12.28<br>|<br>12.45<br>|<br>|<br>|<br>|<br>12.52<br>13.02<br>13.13<br>13.35<br>13.38<br>13.40<br>13.44</div>
<div class="t w3 A3" style="left:588.4px">13.20<br>13.23<br>|<br>13.40<br>13.47<br>13.52<br>14.01<br>14.03<br>|<br>|<br>|<br>14.12<br><br><br>14.19</div>
<div class="t w3 A3" style="left:610.3px">14.20<br>14.23<br>14.28<br>14.45<br>14.52<br>14.57<br>15.06<br>15.08<br>|<br>|<br>|<br>15.17<br>|<br>|<br>15.24</div>
<div class="t w3 A3" style="left:654.1px">16.20<br>16.23<br>|<br>16.40<br>16.47<br>16.52<br>17.01<br>17.03<br>|<br>|<br>|<br>17.12<br>|<br>|<br>17.19</div>
<div class="t w3 A3" style="left:698.9px">17.20<br>17.23<br>|<br>17.40<br>17.49<br>17.54<br>18.06<br>18.08<br>|<br>|<br>|<br>18.17<br>|<br>|<br>18.24</div>
<i class="v" style="left:304.5px;top:827.7px;height:138px"></i>
<i class="v" style="left:327.6px;top:919.7px;height:46px"></i>
<i class="v" style="left:349.5px;top:919.7px;height:46px"></i>
<i class="v" style="left:371.4px;top:827.7px;height:138px"></i>
<i class="v" style="left:393.3px;top:827.7px;height:138px"></i>
<i class="v" style="left:699.5px;top:827.7px;height:138px;width:2px"></i>

<!-- S3 headers B -->
<div class="h w3 HB3" style="left:238px">550</div>
<div class="h w3 HB3" style="left:259.9px">550<br>B7</div>
<div class="h w3 HB3" style="left:281.8px">550<br>A1</div>
<div class="h w3 HB3" style="left:303.7px">550</div>
<div class="h w3 HB3" style="left:369.4px">550</div>
<div class="h w3 HB3" style="left:413.2px">550</div>
<div class="h w3 HB3" style="left:457px">550</div>
<div class="h w3 HB3" style="left:500.8px">550</div>
<div class="h w3 HB3" style="left:544.6px">550</div>
<div class="h w3 HB3" style="left:588.4px">550</div>
<div class="h w3 HB3" style="left:610.3px">550</div>
<div class="h w3 HB3" style="left:632.2px">550<br>B1</div>
<div class="h w3 HB3" style="left:654.1px">550</div>
<div class="h w3 HB3" style="left:676px">550<br>A1</div>
<div class="h w3 HB3" style="left:697.9px">550<br>A1</div>
<!-- S3 data B -->
<div class="t w3 B3" style="left:239px">6.10<br>|<br>|<br>6.16</div>
<div class="t w3 B3" style="left:261.9px">6.35<br>|<br>6.45<br>6.52</div>
<div class="t w3 B3" style="left:283.8px">6.45<br>|<br>|<br>6.51</div>
<div class="t w3 B3" style="left:305.7px">7.05<br>|<br>|<br>7.11</div>
<div class="t w3 B3" style="left:371.4px">8.00<br>|<br>|<br>8.06</div>
<div class="t w3 B3" style="left:413.2px">9.20<br>9.22<br>|<br>9.31</div>
<div class="t w3 B3" style="left:457px">11.20<br>11.22<br>|<br>11.31</div>
<div class="t w3 B3" style="left:500.8px">12.20<br>|<br>|<br>12.36</div>
<div class="t w3 B3" style="left:544.6px">13.25<br>|<br>|<br>13.31</div>
<div class="t w3 B3" style="left:588.4px">14.20<br>|<br>|<br>14.26</div>
<div class="t w3 B3" style="left:610.3px">15.25<br>|<br>|<br>15.31</div>
<div class="t w3 B3" style="left:633.2px">16.55<br>|<br>|<br>17.01</div>
<div class="t w3 B3" style="left:655.1px">17.20<br>|<br>|<br>17.36</div>
<div class="t w3 B3" style="left:677px">17.55<br>|<br>|<br>18.01</div>
<div class="t w3 B3" style="left:698.9px">18.25<br>|<br>|<br>18.31</div>
<i class="v" style="left:261.4px;top:993.3px;height:31px"></i>
<i class="v" style="left:283.3px;top:993.3px;height:31px"></i>
<i class="v" style="left:633.7px;top:993.3px;height:31px"></i>
<i class="v" style="left:655.6px;top:993.3px;height:31px"></i>
<i class="v" style="left:677.5px;top:993.3px;height:31px"></i>
<i class="v" style="left:699.4px;top:993.3px;height:31px;width:2px"></i>

</body></html>
